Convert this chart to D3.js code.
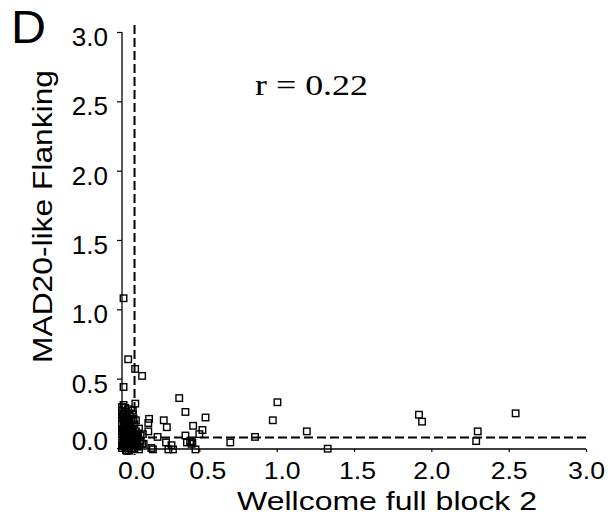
<!DOCTYPE html>
<html>
<head>
<meta charset="utf-8">
<script src="https://cdn.jsdelivr.net/npm/d3@7"></script>
<style>
  html, body { margin: 0; padding: 0; background: #fff; }
  svg { display: block; }
  .tick text { font-family: "Liberation Sans", Arial, sans-serif; }
</style>
</head>
<body>
<div id="chart"></div>
<script>
// Wellcome full block 2 (x) vs MAD20-like Flanking (y), one pair per locus
const wellcome = [
  0.01, 0.04, 0.085, 0.13, 0.01, 0.086, 0.37, 0.41, 0.54, 0.46, 0.52, 0.50,
  0.27, 0.29, 0.175, 0.17, 0.17, 0.07, 0.075, 0.23, 0.41, 0.42, 0.455, 0.475,
  0.285, 0.30, 0.33, 0.32, 0.19, 0.20, 0.135, 0.14, 0.70, 0.86, 1.005, 0.975,
  1.195, 1.33, 1.92, 1.94, 2.30, 2.29, 2.545, 0.44, 0.45,
  0.00, 0.01, 0.02, 0.00, 0.03, 0.01, 0.04, 0.02, 0.00, 0.05, 0.03, 0.01,
  0.06, 0.02, 0.04, 0.00, 0.07, 0.03, 0.05, 0.01, 0.08, 0.02, 0.06, 0.04,
  0.00, 0.09, 0.03, 0.07, 0.01, 0.05, 0.10, 0.02, 0.04, 0.08, 0.00, 0.06,
  0.03, 0.11, 0.12, 0.10, 0.09, 0.11, 0.08, 0.06, 0.05, 0.04, 0.02, 0.07,
  0.00, 0.01, 0.02, 0.05, 0.03, 0.01, 0.09, 0.12, 0.13, 0.11, 0.07, 0.04,
  0.015, 0.035, 0.055, 0.075, 0.025, 0.045, 0.065, 0.085, 0.015, 0.035,
  0.005, 0.025, 0.045, 0.015, 0.035, 0.055, 0.005, 0.025, 0.045, 0.065,
  0.005, 0.025, 0.045, 0.065, 0.085, 0.095, 0.105, 0.115, 0.00, 0.01
];
const mad20 = [
  1.08, 0.64, 0.57, 0.52, 0.44, 0.32, 0.36, 0.26, 0.22, 0.16, 0.13, 0.10,
  0.20, 0.15, 0.21, 0.18, 0.12, 0.27, 0.21, 0.08, 0.09, 0.04, 0.04, -0.01,
  0.04, -0.01, -0.01, 0.02, 0.00, -0.01, 0.10, 0.03, 0.04, 0.08, 0.33, 0.20,
  0.12, -0.005, 0.24, 0.19, 0.12, 0.05, 0.25, 0.05, 0.03,
  0.27, 0.25, 0.26, 0.22, 0.23, 0.20, 0.19, 0.18, 0.17, 0.16, 0.15, 0.14,
  0.13, 0.12, 0.11, 0.10, 0.10, 0.09, 0.08, 0.07, 0.07, 0.06, 0.05, 0.05,
  0.04, 0.04, 0.03, 0.03, 0.02, 0.02, 0.02, 0.01, 0.00, 0.00, 0.00, -0.01,
  -0.02, 0.01, 0.05, 0.08, 0.12, 0.14, 0.17, 0.21, 0.25, 0.28, 0.29, 0.24,
  0.12, 0.09, 0.03, 0.11, 0.19, 0.31, 0.20, 0.09, 0.03, -0.01, 0.14, 0.14,
  0.045, 0.065, 0.035, 0.055, 0.105, 0.085, 0.075, 0.095, 0.155, 0.125,
  0.235, 0.215, 0.205, 0.185, 0.175, 0.145, 0.135, 0.075, 0.025, 0.015,
  0.015, -0.015, -0.02, 0.095, 0.025, 0.065, 0.105, 0.035, 0.295, 0.055
];

const tickValues = [0, 0.5, 1.0, 1.5, 2.0, 2.5, 3.0];
const cutoffX = 0.081;   // vertical dashed reference
const cutoffY = 0.076;   // horizontal dashed reference
const xTitle = "Wellcome full block 2";
const yTitle = "MAD20-like Flanking";
const corrLabel = "r = 0.22";
const panelLabel = "D";

const W = 615, H = 525;
const svg = d3.select("#chart").append("svg")
  .attr("width", W).attr("height", H);

const x = d3.scaleLinear().domain([0, 3]).range([122, 586]);
const y = d3.scaleLinear().domain([0, 3]).range([448, 32]);

const sans = "'Liberation Sans', Arial, Helvetica, sans-serif";

// y axis
const yAxis = svg.append("g")
  .attr("transform", `translate(${x(0)},0)`)
  .call(d3.axisLeft(y).tickValues(tickValues).tickFormat(d3.format(".1f"))
    .tickSize(5).tickSizeOuter(0).tickPadding(9));
yAxis.select(".domain").attr("d", `M0,${y(3)}V${y(0) + 1}`)
  .attr("stroke", "#000").attr("stroke-width", 1.3);
yAxis.selectAll(".tick line").attr("stroke", "#000").attr("stroke-width", 1.2);
yAxis.selectAll(".tick text")
  .attr("font-size", 26).attr("fill", "#000")
  .attr("dy", d => d === 0 ? "0.04em" : "0.52em");

// x axis
const xAxis = svg.append("g")
  .attr("transform", `translate(0,${y(0) + 1})`)
  .call(d3.axisBottom(x).tickValues(tickValues).tickFormat(d3.format(".1f"))
    .tickSize(3).tickSizeOuter(0).tickPadding(10));
xAxis.select(".domain").attr("d", `M${x(0)},0H${x(3)}`)
  .attr("stroke", "#000").attr("stroke-width", 1.5);
xAxis.selectAll(".tick line").attr("stroke", "#000").attr("stroke-width", 1.2);
xAxis.selectAll(".tick text")
  .attr("font-size", 24).attr("fill", "#000")
  .attr("textLength", 37).attr("lengthAdjust", "spacingAndGlyphs")
  .attr("dx", d => d === 0 ? 14 : d === 0.5 ? 8 : d === 1 ? 5 : d === 1.5 ? 3 : 0);

// dashed reference lines
svg.append("line")
  .attr("x1", x(cutoffX)).attr("x2", x(cutoffX))
  .attr("y1", y(3.05)).attr("y2", y(-0.05))
  .attr("stroke", "#000").attr("stroke-width", 2)
  .attr("stroke-dasharray", "9,4");
svg.append("line")
  .attr("x1", x(0)).attr("x2", x(3.02))
  .attr("y1", y(cutoffY)).attr("y2", y(cutoffY))
  .attr("stroke", "#000").attr("stroke-width", 2)
  .attr("stroke-dasharray", "9,4");

// open square markers
const pts = wellcome.map((v, i) => [v, mad20[i]]);
const s = 6.5;
svg.append("g").selectAll("rect").data(pts).join("rect")
  .attr("x", d => x(d[0]) - s / 2)
  .attr("y", d => y(d[1]) - s / 2)
  .attr("width", s).attr("height", s)
  .attr("fill", "none").attr("stroke", "#000").attr("stroke-width", 1.4);

// titles
svg.append("text")
  .attr("x", 237).attr("y", 510)
  .attr("font-family", sans).attr("font-size", 26)
  .attr("textLength", 300).attr("lengthAdjust", "spacingAndGlyphs")
  .text(xTitle);

svg.append("text")
  .attr("transform", `translate(52,363) rotate(-90)`)
  .attr("font-family", sans).attr("font-size", 27)
  .attr("textLength", 293).attr("lengthAdjust", "spacingAndGlyphs")
  .text(yTitle);

svg.append("text")
  .attr("x", x(0.86)).attr("y", y(2.545))
  .attr("font-family", "'Liberation Serif', 'Times New Roman', serif")
  .attr("font-size", 30)
  .attr("textLength", 113).attr("lengthAdjust", "spacingAndGlyphs")
  .text(corrLabel);

svg.append("text")
  .attr("x", 11).attr("y", 43)
  .attr("font-family", sans).attr("font-size", 46)
  .attr("textLength", 35).attr("lengthAdjust", "spacingAndGlyphs")
  .text(panelLabel);
</script>
</body>
</html>
